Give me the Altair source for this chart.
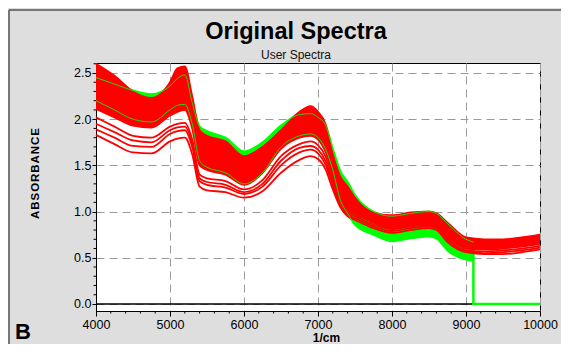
import altair as alt
import pandas as pd

# wavenumber grid (1/cm)
WN = [4000, 4250, 4500, 4750, 5000, 5100, 5200, 5300, 5400, 5500, 5750, 6000, 6250,
      6500, 6750, 6900, 7000, 7100, 7200, 7300, 7400, 7500, 7750, 8000, 8250, 8500,
      8600, 8750, 9000, 9250, 9500, 9750, 10000]
G_WN = [4000, 4250, 4500, 4750, 5000, 5100, 5200, 5300, 5400, 5500, 5750, 6000, 6250,
        6500, 6750, 6900, 7000, 7100, 7200, 7300, 7400, 7500, 7750, 8000, 8250, 8500,
        8600, 8750, 9000, 9100]

# red spectra: envelope of the dense bundle
R_TOP = [2.60, 2.47, 2.30, 2.23, 2.40, 2.55, 2.57, 2.25, 1.88, 1.82, 1.76, 1.60, 1.70,
         1.88, 2.08, 2.14, 2.08, 1.95, 1.62, 1.38, 1.27, 1.15, 0.99, 0.96, 0.99, 1.00,
         0.98, 0.88, 0.72, 0.70, 0.70, 0.72, 0.75]
R_BOT = [2.11, 2.02, 1.93, 1.91, 2.04, 2.08, 2.10, 1.90, 1.50, 1.45, 1.40, 1.29, 1.42,
         1.68, 1.80, 1.82, 1.78, 1.65, 1.40, 1.16, 1.02, 0.98, 0.89, 0.83, 0.86, 0.87,
         0.85, 0.73, 0.61, 0.60, 0.61, 0.63, 0.66]
# separate lower red spectra
L1 = [2.02, 1.92, 1.82, 1.80, 1.92, 1.95, 1.96, 1.78, 1.40, 1.36, 1.33, 1.24, 1.34,
      1.60, 1.73, 1.76, 1.72, 1.60, 1.36, 1.13, 1.00, 0.97, 0.88, 0.82, 0.85, 0.86,
      0.84, 0.72, 0.60, 0.59, 0.60, 0.62, 0.65]
L2 = [1.95, 1.86, 1.77, 1.75, 1.88, 1.91, 1.92, 1.74, 1.36, 1.32, 1.29, 1.21, 1.30,
      1.55, 1.69, 1.71, 1.67, 1.55, 1.32, 1.10, 0.98, 0.95, 0.86, 0.81, 0.84, 0.85,
      0.83, 0.70, 0.58, 0.57, 0.58, 0.60, 0.63]
L3 = [1.89, 1.80, 1.71, 1.70, 1.84, 1.87, 1.88, 1.70, 1.33, 1.29, 1.26, 1.19, 1.27,
      1.50, 1.64, 1.67, 1.63, 1.51, 1.28, 1.07, 0.96, 0.93, 0.84, 0.79, 0.82, 0.84,
      0.82, 0.69, 0.57, 0.55, 0.56, 0.58, 0.61]
L4 = [1.83, 1.73, 1.64, 1.63, 1.76, 1.79, 1.80, 1.62, 1.27, 1.23, 1.21, 1.15, 1.22,
      1.42, 1.56, 1.60, 1.57, 1.46, 1.24, 1.05, 0.95, 0.91, 0.82, 0.77, 0.80, 0.82,
      0.80, 0.67, 0.56, 0.54, 0.54, 0.56, 0.59]
# green spectra envelope (end at 9100, then zero)
G_TOP = [2.45, 2.38, 2.31, 2.27, 2.36, 2.44, 2.48, 2.18, 1.92, 1.87, 1.80, 1.65, 1.75,
         1.93, 2.05, 2.06, 2.02, 1.94, 1.68, 1.44, 1.32, 1.18, 1.00, 0.95, 0.98, 1.00,
         0.98, 0.87, 0.70, 0.67]
G_BOT = [2.20, 2.10, 2.00, 1.97, 2.10, 2.15, 2.16, 1.95, 1.55, 1.48, 1.42, 1.30, 1.42,
         1.70, 1.82, 1.84, 1.80, 1.68, 1.45, 1.13, 0.98, 0.86, 0.75, 0.68, 0.71, 0.73,
         0.71, 0.58, 0.48, 0.47]
TAIL_WN = [9100, 9100, 10000]
TAIL_ABS = [0.67, 0.0, 0.0]

X_TICKS = [4000, 5000, 6000, 7000, 8000, 9000, 10000]
Y_TICKS = [0.0, 0.5, 1.0, 1.5, 2.0, 2.5]
X_MINOR = [4200, 4400, 4600, 4800, 5200, 5400, 5600, 5800, 6200, 6400, 6600, 6800,
           7200, 7400, 7600, 7800, 8200, 8400, 8600, 8800, 9200, 9400, 9600, 9800]
Y_MINOR = [0.1, 0.2, 0.3, 0.4, 0.6, 0.7, 0.8, 0.9, 1.1, 1.2, 1.3, 1.4, 1.6, 1.7, 1.8,
           1.9, 2.1, 2.2, 2.3, 2.4, 2.6]

TITLE = "Original Spectra"
SUBTITLE = "User Spectra"
PANEL = "B"

FONT = "Liberation Sans, Arial, Helvetica, sans-serif"
RED = "#ff0000"
GREEN = "#00ff00"

red_band = pd.DataFrame({"wn": WN, "top": R_TOP, "bot": R_BOT})
green_band = pd.DataFrame({"wn": G_WN, "top": G_TOP, "bot": G_BOT})

rows = []
for name, vals in [("top", R_TOP), ("bot", R_BOT), ("L1", L1), ("L2", L2), ("L3", L3), ("L4", L4)]:
    for i, (w, v) in enumerate(zip(WN, vals)):
        rows.append({"s": name, "wn": w, "a": v, "o": i})
red_lines = pd.DataFrame(rows)
rows = []
for name, vals in [("gtop", G_TOP), ("gbot", G_BOT)]:
    for i, (w, v) in enumerate(zip(G_WN, vals)):
        rows.append({"s": name, "wn": w, "a": v, "o": i})
green_lines = pd.DataFrame(rows)
tail = pd.DataFrame({"wn": TAIL_WN, "a": TAIL_ABS, "o": [0, 1, 2]})

xs = alt.Scale(domain=[4000, 10000], nice=False)
ys = alt.Scale(domain=[-0.076, 2.608], nice=False, zero=False)

x_axis = alt.Axis(values=X_TICKS, format="d", title="1/cm", grid=True,
                  gridDash=[8, 5], gridColor="#9a9a9a", tickSize=5, labelPadding=2,
                  labelFlush=False, labelOverlap=False,
                  labelFont=FONT, labelFontSize=12.5, labelColor="black",
                  titleFont=FONT, titleFontSize=12, titleFontWeight="bold",
                  titleColor="black", titleX=230, titleY=30, titleBaseline="alphabetic",
                  domainColor="black", tickColor="black")
y_axis = alt.Axis(values=Y_TICKS, format=".1f",
                  title="A\u200aB\u200aS\u200aO\u200aR\u200aB\u200aA\u200aN\u200aC\u200aE",
                  grid=True, gridDash=[8, 5], gridColor="#9a9a9a", tickSize=4,
                  labelPadding=1, labelFlush=False, labelOverlap=False,
                  labelFont=FONT, labelFontSize=12.5, labelColor="black",
                  titleFont=FONT, titleFontSize=11.5, titleFontWeight="bold",
                  titleColor="black", titleAngle=270, titleX=-58, titleY=110,
                  titleBaseline="alphabetic",
                  domainColor="black", tickColor="black")


def X(axis=None):
    if axis is None:
        return alt.X("wn:Q", scale=xs)
    return alt.X("wn:Q", scale=xs, axis=axis)


def Y(field, axis=None):
    if axis is None:
        return alt.Y(field, scale=ys)
    return alt.Y(field, scale=ys, axis=axis)


red_area = alt.Chart(red_band).mark_area(color=RED, interpolate="monotone").encode(
    x=X(x_axis), y=Y("top:Q", y_axis), y2="bot:Q")

zero = alt.Chart(pd.DataFrame({"v": [0.0]})).mark_rule(color="black", strokeWidth=1.5).encode(
    y=Y("v:Q"))

green_area = alt.Chart(green_band).mark_area(color=GREEN, interpolate="monotone").encode(
    x=X(), y=Y("top:Q"), y2="bot:Q")
green_edge = alt.Chart(green_lines).mark_line(color=GREEN, strokeWidth=2, interpolate="monotone").encode(
    x=X(), y=Y("a:Q"), detail="s:N", order="o:Q")
green_tail = alt.Chart(tail).mark_line(color=GREEN, strokeWidth=2.5).encode(
    x=X(), y=Y("a:Q"), order="o:Q")

red_line = alt.Chart(red_lines).mark_line(color=RED, strokeWidth=1.8, interpolate="monotone").encode(
    x=X(), y=Y("a:Q"), detail="s:N", order="o:Q")
green_over = alt.Chart(green_lines).mark_line(color=GREEN, strokeWidth=1, opacity=0.85,
                                              interpolate="monotone").encode(
    x=X(), y=Y("a:Q"), detail="s:N", order="o:Q")

ymin = alt.Chart(pd.DataFrame({"v": Y_MINOR})).mark_rule(color="black").encode(
    y=Y("v:Q"), x=alt.value(-2.5), x2=alt.value(0))
xmin = alt.Chart(pd.DataFrame({"w": X_MINOR})).mark_rule(color="black").encode(
    x=alt.X("w:Q", scale=xs), y=alt.value(248), y2=alt.value(250.5))

one = pd.DataFrame({"k": [0]})
border_l = alt.Chart(one).mark_rule(color="#555555", strokeWidth=1.5).encode(
    x=alt.value(-87), y=alt.value(-53), y2=alt.value(290))
border_t = alt.Chart(one).mark_rule(color="#555555", strokeWidth=1.5).encode(
    x=alt.value(-87), x2=alt.value(470), y=alt.value(-53))
title_t = alt.Chart(one).mark_text(text=TITLE, font=FONT, fontSize=23.5, fontWeight="bold",
                                   align="center", baseline="alphabetic", color="black").encode(
    x=alt.value(200), y=alt.value(-24))
subtitle_t = alt.Chart(one).mark_text(text=SUBTITLE, font=FONT, fontSize=12,
                                      align="center", baseline="alphabetic", color="#111111").encode(
    x=alt.value(200), y=alt.value(-4))
label_b = alt.Chart(one).mark_text(text=PANEL, font=FONT, fontSize=22, fontWeight="bold",
                                   align="left", baseline="alphabetic", color="black").encode(
    x=alt.value(-81), y=alt.value(276))

chart = alt.layer(
    red_area, zero, green_area, green_edge, green_tail, red_area, red_line, green_over,
    ymin, xmin, border_l, border_t, title_t, subtitle_t, label_b
).properties(
    width=444, height=248,
    padding={"left": 88, "top": 55, "right": 21, "bottom": 33},
    autosize=alt.AutoSizeParams(type="none"),
    background="#dedede",
).configure_view(stroke="black", strokeWidth=1, fill="white")

chart.save("out.html", embed_options={"renderer": "svg", "actions": False})
